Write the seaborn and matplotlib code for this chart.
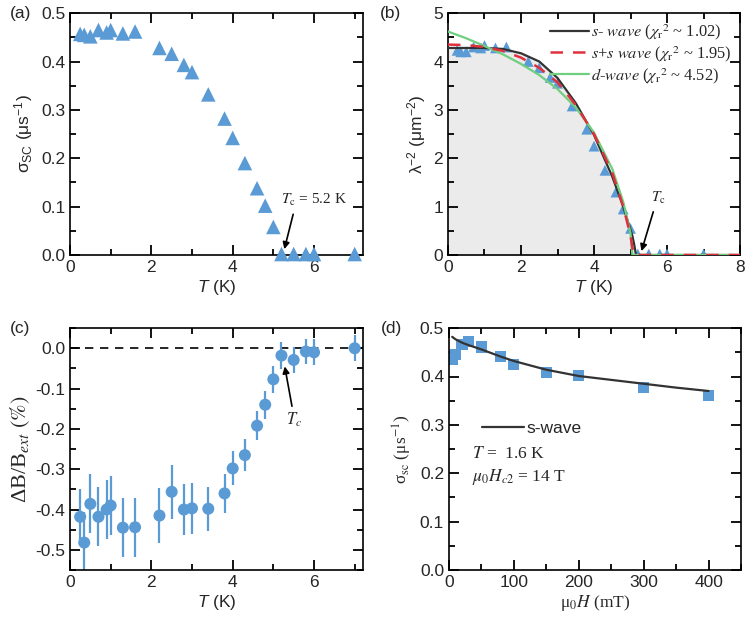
import numpy as np
import pandas as pd
import matplotlib
matplotlib.use("Agg")
import matplotlib.pyplot as plt
import seaborn as sns
from matplotlib.ticker import AutoMinorLocator, MultipleLocator

# --- dados ---
t_a = [0.25, 0.35, 0.5, 0.7, 0.9, 1.0, 1.3, 1.6, 2.2, 2.5, 2.8, 3.0, 3.4, 3.8,
       4.0, 4.3, 4.6, 4.8, 5.0, 5.2, 5.5, 5.8, 6.0, 7.0]
sigma_a = [0.457, 0.455, 0.452, 0.465, 0.460, 0.465, 0.458, 0.462, 0.428, 0.416,
           0.393, 0.378, 0.332, 0.282, 0.242, 0.190, 0.138, 0.102, 0.058, 0.002,
           0.002, 0.002, 0.002, 0.002]

lam_b = [4.23, 4.20, 4.20, 4.30, 4.28, 4.33, 4.28, 4.30, 4.00, 3.87, 3.67, 3.55,
         3.08, 2.60, 2.25, 1.75, 1.30, 0.95, 0.55, 0.02, 0.02, 0.02, 0.02, 0.02]

t_fit = [0.0, 0.5, 1.0, 1.5, 2.0, 2.5, 3.0, 3.5, 4.0, 4.5, 4.8, 5.0, 5.05, 5.1, 5.15, 5.2, 6.0, 8.0]
s_wave = [4.28, 4.28, 4.28, 4.26, 4.17, 4.00, 3.66, 3.14, 2.48, 1.62, 1.00, 0.52, 0.40, 0.22, 0.0, 0.0, 0.0, 0.0]
ss_wave = [4.35, 4.34, 4.30, 4.22, 4.08, 3.87, 3.57, 3.10, 2.50, 1.70, 1.00, 0.40, 0.15, 0.0, 0.0, 0.0, 0.0, 0.0]
d_wave = [4.62, 4.48, 4.32, 4.15, 3.95, 3.72, 3.43, 3.05, 2.53, 1.78, 1.10, 0.45, 0.0, 0.0, 0.0, 0.0, 0.0, 0.0]

t_c = [0.25, 0.35, 0.5, 0.7, 0.9, 1.0, 1.3, 1.6, 2.2, 2.5, 2.8, 3.0, 3.4, 3.8,
       4.0, 4.3, 4.6, 4.8, 5.0, 5.2, 5.5, 5.8, 6.0, 7.0]
dB = [-0.418, -0.482, -0.386, -0.418, -0.400, -0.390, -0.445, -0.444, -0.415, -0.356,
      -0.400, -0.397, -0.398, -0.360, -0.298, -0.265, -0.192, -0.140, -0.077, -0.018,
      -0.029, -0.008, -0.010, 0.000]
dB_err = [0.070, 0.075, 0.073, 0.073, 0.073, 0.073, 0.073, 0.073, 0.068, 0.067,
          0.063, 0.063, 0.055, 0.048, 0.042, 0.040, 0.036, 0.035, 0.033, 0.033,
          0.032, 0.032, 0.032, 0.032]

h_d = [5, 10, 20, 30, 50, 80, 100, 150, 200, 300, 400]
sigma_d = [0.436, 0.445, 0.466, 0.472, 0.461, 0.441, 0.425, 0.408, 0.402, 0.378, 0.361]
h_fit = [5, 10, 20, 30, 50, 80, 100, 150, 200, 250, 300, 350, 400]
sigma_fit = [0.482, 0.477, 0.470, 0.465, 0.456, 0.441, 0.432, 0.414, 0.401, 0.393, 0.385, 0.377, 0.370]

azul = "#5b9bd5"

sns.set_style("ticks")
plt.rcParams["font.family"] = ["Liberation Sans", "DejaVu Sans"]
plt.rcParams["mathtext.fontset"] = "custom"
plt.rcParams["mathtext.rm"] = "Liberation Sans"
plt.rcParams["mathtext.it"] = "Liberation Sans:italic"
plt.rcParams["mathtext.bf"] = "Liberation Sans:bold"
plt.rcParams["axes.linewidth"] = 1.2
plt.rcParams["axes.edgecolor"] = "black"
plt.rcParams["xtick.labelsize"] = 12.5
plt.rcParams["ytick.labelsize"] = 12.5

serif = ["Liberation Serif", "DejaVu Serif"]

fig = plt.figure(figsize=(7.47, 6.25), dpi=100)
ax_a = fig.add_axes([0.0937, 0.592, 0.392, 0.387])
ax_b = fig.add_axes([0.5997, 0.592, 0.391, 0.387])
ax_c = fig.add_axes([0.0937, 0.088, 0.392, 0.387])
ax_d = fig.add_axes([0.601, 0.088, 0.391, 0.387])

# --- (a) ---
sns.scatterplot(x=t_a, y=sigma_a, ax=ax_a, marker="^", s=110, color=azul,
                edgecolor="none", clip_on=False, zorder=3)
ax_a.set_xlim(0, 7.2)
ax_a.set_ylim(0, 0.5)
ax_a.xaxis.set_major_locator(MultipleLocator(2))
ax_a.yaxis.set_major_locator(MultipleLocator(0.1))
ax_a.set_xlabel("$T$ (K)", fontsize=12.5, labelpad=2)
ax_a.set_ylabel("σ$_{\\rm SC}$ (μs$^{-1}$)", fontsize=12.5)
ax_a.annotate("$T_{\\rm c}$ = 5.2 K", xy=(5.27, 0.012), xytext=(5.2, 0.105),
              fontsize=11, family=serif, math_fontfamily="stix",
              arrowprops=dict(arrowstyle="-|>", color="black", lw=1.2,
                              shrinkA=2, shrinkB=0, mutation_scale=10,
                              relpos=(0.2, 0.0)))

# --- (b) ---
ax_b.fill_between(t_fit, s_wave, 0, color="#ebebeb", zorder=0, lw=0)
sns.scatterplot(x=t_a, y=lam_b, ax=ax_b, marker="^", s=60, color=azul,
                edgecolor="none", zorder=2)
sns.lineplot(x=t_fit, y=s_wave, ax=ax_b, color="#333333", lw=1.6, zorder=3,
             label="$s$- $wave$ ($\\chi_{\\rm r}$$^{2}$ ~ 1.02)")
sns.lineplot(x=t_fit, y=ss_wave, ax=ax_b, color="#e0303e", lw=1.8, zorder=4,
             label="$s$+$s$ $wave$ ($\\chi_{\\rm r}$$^{2}$ ~ 1.95)")
sns.lineplot(x=t_fit, y=d_wave, ax=ax_b, color="#6fcf7f", lw=1.6, zorder=3,
             label="$d$-$wave$ ($\\chi_{\\rm r}$$^{2}$ ~ 4.52)")
ax_b.lines[1].set_dashes((5, 4))
ax_b.set_xlim(0, 8)
ax_b.set_ylim(0, 5)
ax_b.xaxis.set_major_locator(MultipleLocator(2))
ax_b.yaxis.set_major_locator(MultipleLocator(1))
ax_b.set_xlabel("$T$ (K)", fontsize=12.5, labelpad=2)
ax_b.set_ylabel("λ$^{-2}$ (μm$^{-2}$)", fontsize=12.5)
leg = ax_b.legend(loc="upper right", frameon=False, fontsize=11.8,
                  handlelength=2.4, handletextpad=0.1, borderaxespad=0.25,
                  labelspacing=0.12, borderpad=0.3)
for txt in leg.get_texts():
    txt.set_fontfamily(serif)
    txt.set_math_fontfamily("stix")
ax_b.annotate("$T_{\\rm c}$", xy=(5.3, 0.08), xytext=(5.55, 1.1),
              fontsize=11, family=serif, math_fontfamily="stix",
              arrowprops=dict(arrowstyle="-|>", color="black", lw=1.2,
                              shrinkA=2, shrinkB=0, mutation_scale=10,
                              relpos=(0.3, 0.0)))

# --- (c) ---
ax_c.axhline(0, color="black", ls=(0, (5, 4)), lw=1.2, zorder=1)
ax_c.errorbar(t_c, dB, yerr=dB_err, fmt="none", ecolor=azul, elinewidth=1.6,
              capsize=0, zorder=2)
sns.scatterplot(x=t_c, y=dB, ax=ax_c, marker="o", s=75, color=azul,
                edgecolor="none", zorder=3)
ax_c.set_xlim(0, 7.2)
ax_c.set_ylim(-0.55, 0.05)
ax_c.xaxis.set_major_locator(MultipleLocator(2))
ax_c.set_yticks([-0.5, -0.4, -0.3, -0.2, -0.1, 0.0])
ax_c.set_yticklabels(["-0.5", "-0.4", "-0.3", "-0.2", "-0.1", "0.0"])
ax_c.set_xlabel("$T$ (K)", fontsize=12.5, labelpad=2)
ax_c.set_ylabel("ΔB/B$_{ext}$ $(\\%)$", fontsize=16, family=serif,
                math_fontfamily="stix", labelpad=2)
ax_c.annotate("$T_c$", xy=(5.28, -0.045), xytext=(5.3, -0.19),
              fontsize=12, family=serif, math_fontfamily="stix",
              arrowprops=dict(arrowstyle="-|>", color="black", lw=1.2,
                              shrinkA=1, shrinkB=0, mutation_scale=10,
                              relpos=(0.45, 1.0)))

# --- (d) ---
sns.scatterplot(x=h_d, y=sigma_d, ax=ax_d, marker="s", s=65, color=azul,
                edgecolor="none", zorder=2)
sns.lineplot(x=h_fit, y=sigma_fit, ax=ax_d, color="#333333", lw=1.6, zorder=3,
             label="s-wave")
ax_d.set_xlim(0, 450)
ax_d.set_ylim(0, 0.5)
ax_d.xaxis.set_major_locator(MultipleLocator(100))
ax_d.yaxis.set_major_locator(MultipleLocator(0.1))
ax_d.set_xlabel("μ$_0$$H$ (mT)", fontsize=12.5, family=serif,
                math_fontfamily="stix", labelpad=2)
ax_d.set_ylabel("σ$_{\\rm sc}$ (μs$^{-1}$)", fontsize=12.5, family=serif,
                math_fontfamily="stix")
ax_d.legend(loc="upper left", bbox_to_anchor=(0.06, 0.68), frameon=False,
            fontsize=12.5, handlelength=2.4, handletextpad=0.15)
ax_d.text(0.08, 0.48, "$T$ =  1.6 K", transform=ax_d.transAxes, fontsize=12.5,
          family=serif, math_fontfamily="stix", va="center")
ax_d.text(0.08, 0.385, "$\\mu_0 H_{c2}$ = 14 T", transform=ax_d.transAxes,
          fontsize=12.5, family=serif, math_fontfamily="stix", va="center")

# ticks para dentro nos quatro lados, com minor ticks
for ax in (ax_a, ax_b, ax_c, ax_d):
    ax.xaxis.set_minor_locator(AutoMinorLocator(2))
    ax.yaxis.set_minor_locator(AutoMinorLocator(2))
    ax.tick_params(which="both", direction="in", top=True, right=True,
                   bottom=True, left=True, width=1.3, color="black")
    ax.tick_params(which="major", length=7)
    ax.tick_params(which="minor", length=4.5)
    for sp in ax.spines.values():
        sp.set_color("black")

# rótulos dos painéis
fig.text(0.013, 0.979, "(a)", fontsize=12.5, va="center")
fig.text(0.508, 0.979, "(b)", fontsize=12.5, va="center")
fig.text(0.013, 0.475, "(c)", fontsize=12.5, va="center")
fig.text(0.51, 0.475, "(d)", fontsize=12.5, va="center")

fig.savefig("out.png", dpi=100)
